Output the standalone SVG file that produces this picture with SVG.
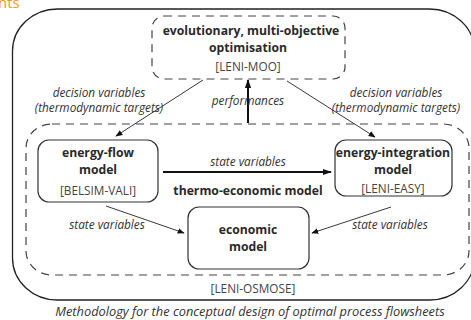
<svg xmlns="http://www.w3.org/2000/svg" width="471" height="320" viewBox="0 0 471 320">
<defs>
<style>
text{font-family:"Open Sans","Noto Sans",sans-serif;fill:#2a2a2a;text-anchor:middle}
.b{font-weight:bold;font-size:12.2px}
.r{font-size:11.8px;fill:#444}
.i{font-style:italic;font-size:11.8px;fill:#333}
.box{fill:#fff;stroke:#333;stroke-width:1.2}
.dash{fill:none;stroke:#444;stroke-width:1.2;stroke-dasharray:8 6}
.ln{stroke:#222;stroke-width:0.9;fill:none}
.thk{stroke:#111;stroke-width:2;fill:none}
</style>
<marker id="ah" viewBox="0 0 10 10" refX="9" refY="5" markerWidth="7" markerHeight="7" markerUnits="userSpaceOnUse" orient="auto"><path d="M0,1 L10,5 L0,9 z" fill="#111"/></marker>
<marker id="ahb" viewBox="0 0 10 10" refX="9" refY="5" markerWidth="9" markerHeight="9" markerUnits="userSpaceOnUse" orient="auto"><path d="M0,1.5 L10,5 L0,8.5 z" fill="#111"/></marker>
</defs>
<rect width="471" height="320" fill="#fff"/>
<text x="-2" y="8" style="font-size:15px;fill:#f39c12;text-anchor:start">nts</text>
<g id="outer"><rect x="12.5" y="9" width="462" height="291" rx="45" ry="42" fill="none" stroke="#222" stroke-width="1.3"/></g>
<g id="osmose"><rect x="26" y="124" width="443" height="151" rx="26" ry="24" class="dash"/>
<text class="r" x="253" y="293">[LENI-OSMOSE]</text>
<text class="b" x="248" y="195">thermo-economic model</text></g>
<g id="moo"><rect x="152" y="16" width="193" height="63" rx="12" class="dash" style="fill:#fff"/>
<text class="b" x="251" y="35">evolutionary, multi-objective</text>
<text class="b" x="248" y="52">optimisation</text>
<text class="r" x="248" y="71">[LENI-MOO]</text></g>
<g id="energyflow"><rect x="38" y="140" width="120" height="62" rx="11" class="box"/>
<text class="b" x="98" y="157">energy-flow</text>
<text class="b" x="98" y="174">model</text>
<text class="r" x="98" y="195">[BELSIM-VALI]</text></g>
<g id="energyintegration"><rect x="335" y="140" width="117" height="56" rx="11" class="box"/>
<text class="b" x="393" y="157">energy-integration</text>
<text class="b" x="393" y="174">model</text>
<text class="r" x="393" y="193">[LENI-EASY]</text></g>
<g id="economic"><rect x="188" y="207" width="121" height="62" rx="11" class="box"/>
<text class="b" x="248" y="234">economic</text>
<text class="b" x="248" y="251">model</text></g>
<g id="connectors">
<line class="ln" x1="203" y1="80" x2="116" y2="136" marker-end="url(#ah)"/>
<line class="ln" x1="287" y1="81" x2="375" y2="137" marker-end="url(#ah)"/>
<line class="thk" x1="248" y1="123" x2="248" y2="80" marker-end="url(#ahb)"/>
<line class="thk" x1="163" y1="172" x2="331" y2="172" marker-end="url(#ahb)"/>
<line class="ln" x1="106" y1="206" x2="184" y2="233" marker-end="url(#ah)"/>
<line class="ln" x1="391" y1="207" x2="312" y2="233" marker-end="url(#ah)"/>
<text class="i" x="99" y="97">decision variables</text>
<text class="i" x="99" y="112">(thermodynamic targets)</text>
<text class="i" x="396" y="97">decision variables</text>
<text class="i" x="396" y="112">(thermodynamic targets)</text>
<text class="i" x="248" y="105">performances</text>
<text class="i" x="248" y="166">state variables</text>
<text class="i" x="107" y="229">state variables</text>
<text class="i" x="390" y="229">state variables</text>
</g>
<text class="i" x="250" y="316" style="font-size:12.8px">Methodology for the conceptual design of optimal process flowsheets</text>
</svg>
